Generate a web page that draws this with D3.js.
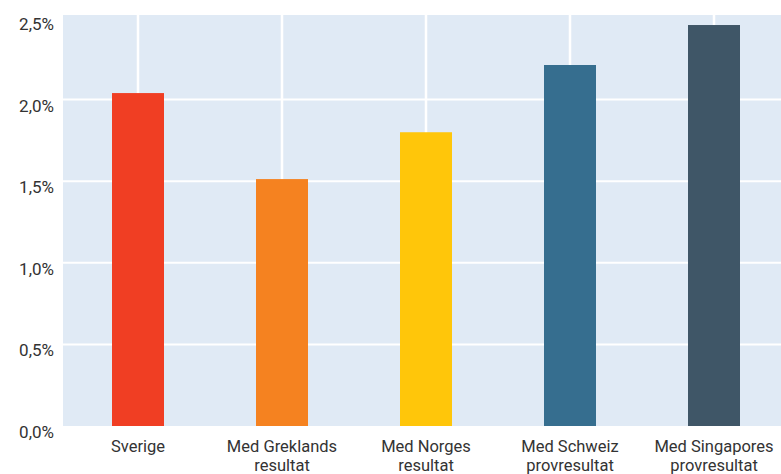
<!DOCTYPE html>
<html>
<head>
<meta charset="utf-8">
<script src="https://cdn.jsdelivr.net/npm/d3@7"></script>
<style>
  html, body { margin: 0; padding: 0; background: #fff; }
  svg { display: block; font-family: Roboto, "Liberation Sans", sans-serif; }
</style>
</head>
<body>
<div id="chart"></div>
<script>
const categories = ["Sverige", "Med Greklands resultat", "Med Norges resultat", "Med Schweiz provresultat", "Med Singapores provresultat"];
const labelLines = [["Sverige"], ["Med Greklands", "resultat"], ["Med Norges", "resultat"], ["Med Schweiz", "provresultat"], ["Med Singapores", "provresultat"]];
const values = [2.04, 1.513, 1.80, 2.212, 2.457];
const colors = ["#f03e23", "#f58220", "#ffc60a", "#366e8f", "#3f5667"];
const yTicks = [0, 0.5, 1.0, 1.5, 2.0, 2.5];

const width = 781, height = 474;
const plotLeft = 63, plotTop = 15, plotBottom = 426;

const svg = d3.select("#chart").append("svg")
  .attr("width", width)
  .attr("height", height);

const x = d3.scaleBand().domain(categories).range([66, 786]).paddingInner(0).paddingOuter(0);
const y = d3.scaleLinear().domain([0, 2.5]).range([plotBottom, 18]);
const barW = 52;

// background
svg.append("rect")
  .attr("x", plotLeft).attr("y", plotTop)
  .attr("width", width - plotLeft).attr("height", plotBottom - plotTop)
  .attr("fill", "#e0eaf5");

// grid
svg.append("g").selectAll("line.h")
  .data(yTicks.filter(d => d > 0 && d < 2.5))
  .join("line")
  .attr("x1", plotLeft).attr("x2", width)
  .attr("y1", d => y(d)).attr("y2", d => y(d))
  .attr("stroke", "#fff").attr("stroke-width", 2);

svg.append("g").selectAll("line.v")
  .data(categories)
  .join("line")
  .attr("x1", d => x(d) + x.bandwidth() / 2).attr("x2", d => x(d) + x.bandwidth() / 2)
  .attr("y1", plotTop).attr("y2", plotBottom)
  .attr("stroke", "#fff").attr("stroke-width", 2.5);

// bars
svg.append("g").selectAll("rect")
  .data(values)
  .join("rect")
  .attr("x", (d, i) => x(categories[i]) + x.bandwidth() / 2 - barW / 2)
  .attr("width", barW)
  .attr("y", d => y(d))
  .attr("height", d => plotBottom - y(d))
  .attr("fill", (d, i) => colors[i]);

// y labels
svg.append("g").selectAll("text")
  .data(yTicks)
  .join("text")
  .attr("x", 54)
  .attr("y", d => y(d) + 12)
  .attr("text-anchor", "end")
  .attr("font-size", 17)
  .attr("fill", "#333")
  .text(d => d3.format(".1f")(d).replace(".", ",") + "%");

// x labels
const xl = svg.append("g").selectAll("text")
  .data(categories)
  .join("text")
  .attr("text-anchor", "middle")
  .attr("font-size", 16.5)
  .attr("fill", "#333");

xl.each(function(d, i) {
  const t = d3.select(this);
  labelLines[i].forEach((line, j) => {
    t.append("tspan")
      .attr("x", x(d) + x.bandwidth() / 2)
      .attr("y", 452 + j * 19)
      .text(line);
  });
});
</script>
</body>
</html>
